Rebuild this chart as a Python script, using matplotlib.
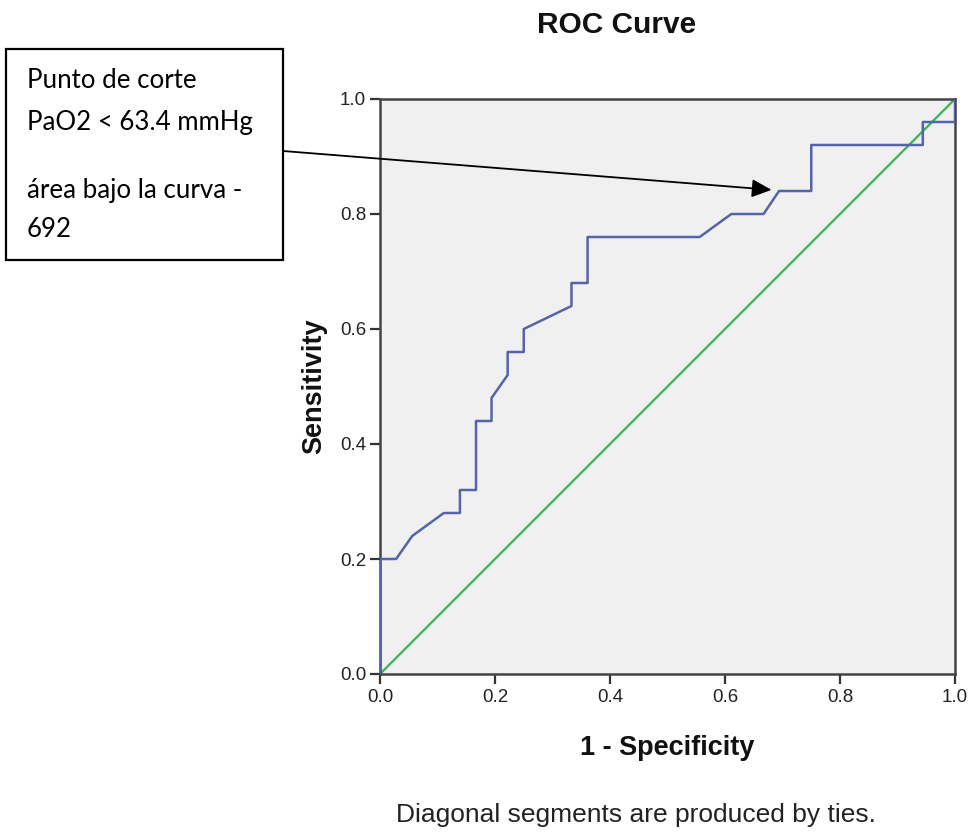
import matplotlib
matplotlib.use("Agg")
import matplotlib.pyplot as plt
from matplotlib.patches import Rectangle

# ROC curve points
fpr = [0.0, 0.0, 0.028, 0.056, 0.111, 0.139, 0.139, 0.167, 0.167, 0.194, 0.194,
       0.222, 0.222, 0.250, 0.250, 0.333, 0.333, 0.361, 0.361, 0.556, 0.611,
       0.667, 0.694, 0.750, 0.750, 0.944, 0.944, 1.0, 1.0]
tpr = [0.0, 0.20, 0.20, 0.24, 0.28, 0.28, 0.32, 0.32, 0.44, 0.44, 0.48,
       0.52, 0.56, 0.56, 0.60, 0.64, 0.68, 0.68, 0.76, 0.76, 0.80,
       0.80, 0.84, 0.84, 0.92, 0.92, 0.96, 0.96, 1.0]
ref_line = [0.0, 1.0]
ticks = [0.0, 0.2, 0.4, 0.6, 0.8, 1.0]
tick_labels = ["0.0", "0.2", "0.4", "0.6", "0.8", "1.0"]
cut_point = (0.681, 0.842)
box_lines = ["Punto de corte", "PaO2 < 63.4 mmHg", "área bajo la curva -", "692"]

W, H = 972, 834
fig = plt.figure(figsize=(W / 100, H / 100), dpi=100)
ax = fig.add_axes([380 / W, 1 - 674 / H, 575 / W, 575 / H])

ax.set_facecolor("#f0f0f0")
ax.plot(ref_line, ref_line, color="#3fb55a", lw=1.7, zorder=2)
ax.plot(fpr, tpr, color="#5563a8", lw=1.8, zorder=3)

ax.set_xlim(0, 1)
ax.set_ylim(0, 1)
ax.set_xticks(ticks)
ax.set_xticklabels(tick_labels)
ax.set_yticks(ticks)
ax.set_yticklabels(tick_labels)
ax.tick_params(direction="out", length=7, width=1.6, color="#333333",
               labelsize=13.5, labelcolor="#222222", pad=4)
ax.tick_params(axis="y", pad=3)
for s in ax.spines.values():
    s.set_color("#444444")
    s.set_linewidth(1.8)
for lab in ax.get_xticklabels() + ax.get_yticklabels():
    lab.set_family("Liberation Sans")

ax.set_xlabel("1 - Specificity", fontsize=19.5, fontweight="bold",
              family="Liberation Sans", color="#111111")
ax.xaxis.set_label_coords(0.5, -0.106)
ax.set_ylabel("Sensitivity", fontsize=19.5, fontweight="bold",
              family="Liberation Sans", color="#111111")
ax.yaxis.set_label_coords(-0.092, 0.5)

fig.text(617 / W, 1 - 25 / H, "ROC Curve", ha="center", va="center",
         fontsize=21.5, fontweight="bold", family="Liberation Sans", color="#111111")
fig.text(636 / W, 1 - 815 / H, "Diagonal segments are produced by ties.",
         ha="center", va="center", fontsize=19, family="Liberation Sans",
         color="#222222")

# annotation box
box = Rectangle((6 / W, 1 - 260 / H), 277 / W, 211 / H, transform=fig.transFigure,
                facecolor="white", edgecolor="black", lw=1.6, zorder=5)
fig.patches.append(box)
baselines = [88, 130, 198, 237]
for txt, b in zip(box_lines, baselines):
    fig.text(27 / W, 1 - b / H, txt, ha="left", va="baseline", fontsize=18.6,
             family="Lato", color="black", zorder=6)

ax.annotate("", xy=cut_point, xycoords="data",
            xytext=(283 / W, 1 - 151 / H), textcoords="figure fraction",
            arrowprops=dict(arrowstyle="-|>,head_length=1.2,head_width=0.55",
                            color="black", lw=1.3, shrinkA=0, shrinkB=0),
            annotation_clip=False, zorder=6)

fig.savefig("out.png", dpi=100)
